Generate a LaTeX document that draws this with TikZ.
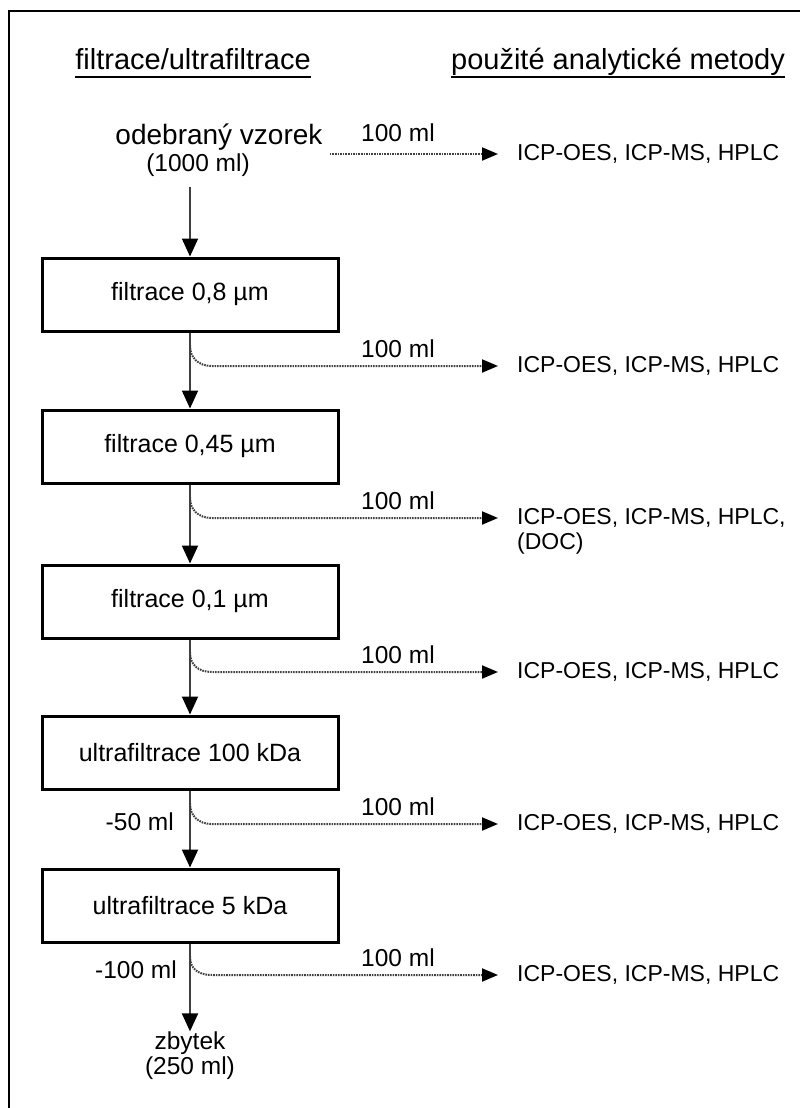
\documentclass[tikz,border=0pt]{standalone}
\usepackage{fontspec}
\setmainfont{Liberation Sans}
\usetikzlibrary{arrows.meta}
\tikzset{
  stage/.style={draw=black, line width=3pt, fill=white, minimum width=296pt,
    minimum height=73pt, inner sep=0pt, font=\fontsize{25}{30}\selectfont},
  txt/.style={inner sep=0pt, font=\fontsize{24.5}{29}\selectfont},
  head/.style={inner sep=0pt, font=\fontsize{29}{32}\selectfont},
  meth/.style={anchor=west, inner xsep=19pt, inner ysep=0pt,
    font=\fontsize{23}{28}\selectfont},
  flow/.style={draw=black!75, line width=2pt,
    -{Triangle[width=16pt,length=18pt,color=black]}},
  tap/.style={draw=black!75, line width=2pt, dash pattern=on 1.6pt off 1pt,
    -{Triangle[width=13pt,length=16pt,color=black]}}
}
\begin{document}
\begin{tikzpicture}[x=1pt,y=-1pt]
\useasboundingbox (0,0) rectangle (800,1108);
\fill[white] (0,0) rectangle (800,1108);
% open frame
\draw[line width=2.5pt] (9,1108) -- (9,11) -- (800,11);

% column headings
\node[head, anchor=base] (h1) at (193,70) {filtrace/ultrafiltrace};
\node[head, anchor=base] (h2) at (618,70) {použité analytické metody};
\draw[line width=2pt] ([yshift=-7pt]h1.base west) -- ([yshift=-7pt]h1.base east);
\draw[line width=2pt] ([yshift=-7pt]h2.base west) -- ([yshift=-7pt]h2.base east);

% sample
\node[txt, font=\fontsize{28}{32}\selectfont] (src) at (219,137) {odebraný vzorek};
\node[txt] (srcv) at (198,165) {(1000 ml)};

% filtration stages
\node[stage] (s1) at (190,294.5) {filtrace 0,8 µm};
\node[stage] (s2) at (190,446.5) {filtrace 0,45 µm};
\node[stage] (s3) at (190,601.5) {filtrace 0,1 µm};
\node[stage] (s4) at (190,752.5) {ultrafiltrace 100 kDa};
\node[stage] (s5) at (190,905.5) {ultrafiltrace 5 kDa};

% residue
\node[txt] (rest) at (190,1043) {zbytek};
\node[txt] (restv) at (190,1068) {(250 ml)};

% volume losses
\node[txt, anchor=east] (v4) at (174,822) {-50 ml};
\node[txt, anchor=east] (v5) at (177,970) {-100 ml};

% analytical methods
\node[meth] (m0) at (498,154) {ICP-OES, ICP-MS, HPLC};
\node[meth] (m1) at (498,366) {ICP-OES, ICP-MS, HPLC};
\node[meth] (m2) at (498,518) {ICP-OES, ICP-MS, HPLC,};
\node[meth] (m2b) at (498,544) {(DOC)};
\node[meth] (m3) at (498,672) {ICP-OES, ICP-MS, HPLC};
\node[meth] (m4) at (498,824) {ICP-OES, ICP-MS, HPLC};
\node[meth] (m5) at (498,975) {ICP-OES, ICP-MS, HPLC};

% aliquot volumes
\node[txt] (a0) at (398,133) {100 ml};
\node[txt] (a1) at (398,349) {100 ml};
\node[txt] (a2) at (398,501) {100 ml};
\node[txt] (a3) at (398,655) {100 ml};
\node[txt] (a4) at (398,807) {100 ml};
\node[txt] (a5) at (398,958) {100 ml};

% main flow
\draw[flow, shorten <=10pt] (s1.north |- srcv.south) -- (s1.north);
\draw[flow] (s1) -- (s2);
\draw[flow] (s2) -- (s3);
\draw[flow] (s3) -- (s4);
\draw[flow] (s4) -- (s5);
\draw[flow] (s5) -- (rest);

% branch points below each stage
\coordinate (t1) at ([yshift=-13pt]s1.south);
\coordinate (t2) at ([yshift=-13pt]s2.south);
\coordinate (t3) at ([yshift=-13pt]s3.south);
\coordinate (t4) at ([yshift=-13pt]s4.south);
\coordinate (t5) at ([yshift=-13pt]s5.south);

% aliquots taken off for analysis
\draw[tap, shorten <=7pt] (src.east |- m0.west) -- (m0.west);
\foreach \i in {1,...,5}{
  \draw[tap] (t\i) .. controls ([yshift=-12pt]t\i) and ([xshift=8pt]t\i |- m\i.west) ..
    ([xshift=22pt]t\i |- m\i.west) -- (m\i.west);
}
\end{tikzpicture}
\end{document}
